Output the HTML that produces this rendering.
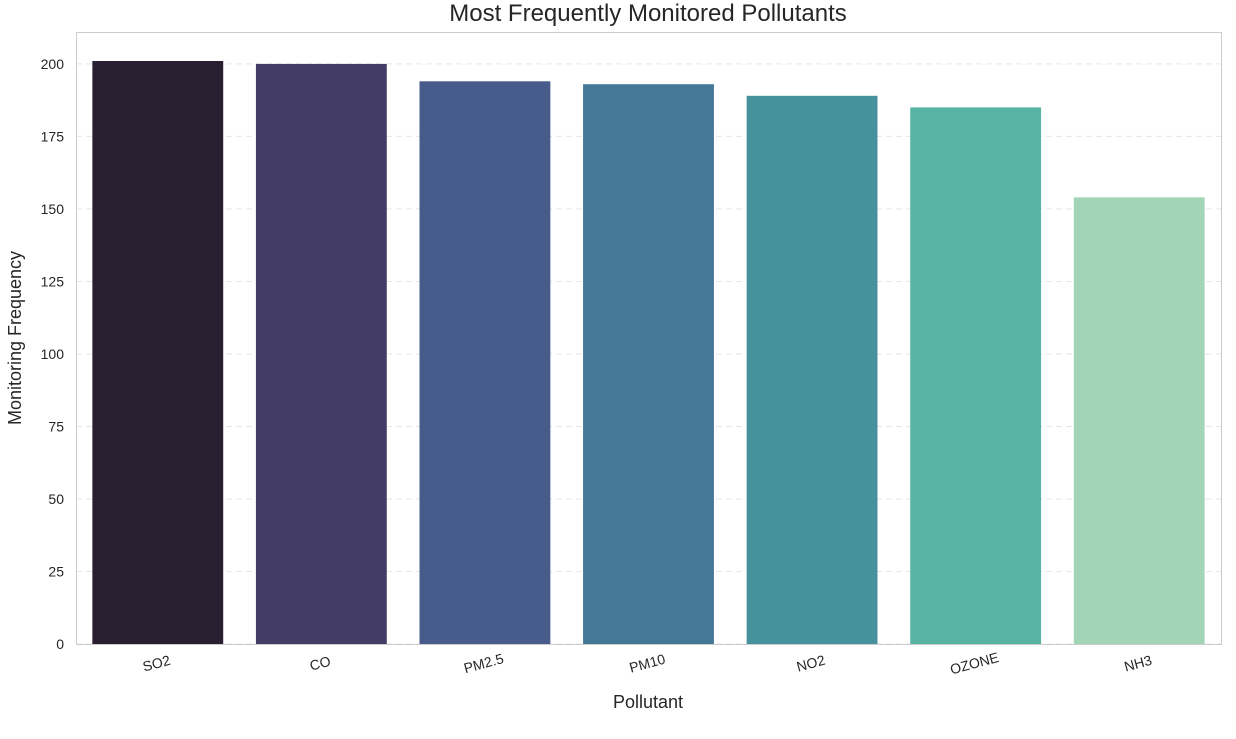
<!DOCTYPE html>
<html><head><meta charset="utf-8"><style>
body{margin:0;background:#fff;font-family:"Liberation Sans",Arial,sans-serif;}
</style></head><body>
<svg id="chart" width="1236" height="734" xmlns="http://www.w3.org/2000/svg" font-family="Liberation Sans, Arial, sans-serif">
<text x="648" y="21" font-size="24" text-anchor="middle" fill="#262626">Most Frequently Monitored Pollutants</text>
<g id="grid"></g><g id="bars"></g><g id="yticks"></g><g id="xticks"></g>
<rect x="76.5" y="32.5" width="1145" height="612" fill="none" stroke="#cccccc" stroke-width="1"/>
<text transform="translate(21,338) rotate(-90)" font-size="18" text-anchor="middle" fill="#262626">Monitoring Frequency</text>
<text x="648" y="708" font-size="18" text-anchor="middle" fill="#262626">Pollutant</text>
</svg>
<script>
const categories=["SO2","CO","PM2.5","PM10","NO2","OZONE","NH3"];
const values=[201,200,194,193,189,185,154];
const colors=["#2a1f30","#433c64","#485c8c","#447896","#45919c","#58b3a4","#a2d4b6"];
const yTicks=[0,25,50,75,100,125,150,175,200];
const NS="http://www.w3.org/2000/svg";
const L=76,R=1221,T=32,B=644,YMAX=211;
const y=v=>B-(v/YMAX)*(B-T);
const step=(R-L)/categories.length;
const x=i=>L+step*i+step/2;
function mk(t,a,p){const e=document.createElementNS(NS,t);for(const k in a)e.setAttribute(k,a[k]);p.appendChild(e);return e;}
const grid=document.getElementById('grid'),yt=document.getElementById('yticks'),bars=document.getElementById('bars'),xt=document.getElementById('xticks');
yTicks.forEach(v=>{
 const g=mk('line',{x1:L,x2:R,y1:y(v),y2:y(v),stroke:'#e6e6e6','stroke-dasharray':'6,4'},grid);
 
 
 const t=mk('text',{x:L-12,y:y(v)+5,'font-size':14,'text-anchor':'end',fill:'#262626'},yt);
 t.textContent=v;
 
 
});
const bw=step*0.8;
categories.forEach((c,i)=>{
 const r=mk('rect',{x:x(i)-bw/2,y:y(values[i]),width:bw,height:B-y(values[i]),fill:colors[i]},bars);
 
 
 const t=mk('text',{transform:`translate(${x(i)},${B+24}) rotate(-15)`,'font-size':14,'text-anchor':'middle',fill:'#262626'},xt);
 t.textContent=c;
 
 
});
</script>
</body></html>
